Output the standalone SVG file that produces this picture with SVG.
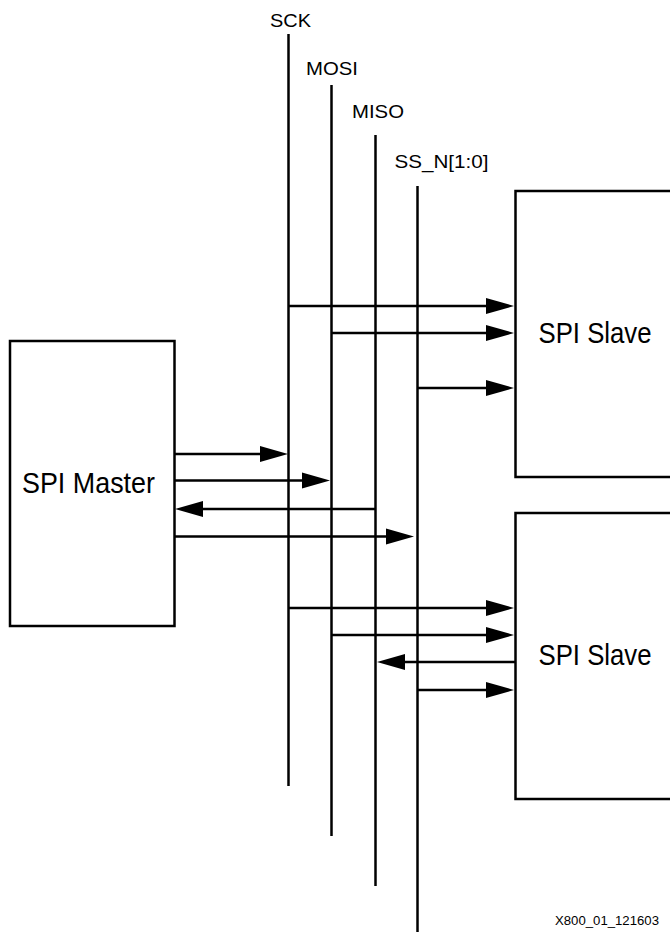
<svg xmlns="http://www.w3.org/2000/svg" width="670" height="932" viewBox="0 0 670 932">
  <style>
    .box { fill: #fff; stroke: #000; stroke-width: 2.5; }
    .bus { stroke: #000; stroke-width: 2.5; fill: none; }
    .sig { stroke: #000; stroke-width: 2.5; fill: none; marker-end: url(#ah); }
    .lbl { font-family: "Liberation Sans", Arial, sans-serif; font-size: 19px; fill: #000; }
    .big { font-family: "Liberation Sans", Arial, sans-serif; font-size: 29px; fill: #000; }
    .note { font-family: "Liberation Sans", Arial, sans-serif; font-size: 13px; fill: #000; }
  </style>
  <defs>
    <marker id="ah" markerUnits="userSpaceOnUse" markerWidth="30" markerHeight="18" refX="18" refY="8" orient="auto" overflow="visible">
      <path d="M0,0 L28,8 L0,16 Z" fill="#000"/>
    </marker>
  </defs>
  <rect width="670" height="932" fill="#fff"/>

  <g id="master">
    <rect class="box" x="10" y="341" width="164.5" height="285"/>
    <text class="big" x="22" y="493" textLength="133" lengthAdjust="spacingAndGlyphs">SPI Master</text>
  </g>

  <g id="slave1">
    <rect class="box" x="515.5" y="191" width="200" height="286"/>
    <text class="big" x="538.5" y="343" textLength="113" lengthAdjust="spacingAndGlyphs">SPI Slave</text>
  </g>

  <g id="slave2">
    <rect class="box" x="515.5" y="513" width="200" height="286"/>
    <text class="big" x="538.5" y="665" textLength="113" lengthAdjust="spacingAndGlyphs">SPI Slave</text>
  </g>

  <g id="bus-labels">
    <text class="lbl" x="270" y="27" textLength="41" lengthAdjust="spacingAndGlyphs">SCK</text>
    <text class="lbl" x="306" y="75" textLength="52" lengthAdjust="spacingAndGlyphs">MOSI</text>
    <text class="lbl" x="352" y="118" textLength="52" lengthAdjust="spacingAndGlyphs">MISO</text>
    <text class="lbl" x="394.5" y="168" textLength="94" lengthAdjust="spacingAndGlyphs">SS_N[1:0]</text>
  </g>

  <g id="connectors">
    <line class="bus" x1="288.5" y1="34" x2="288.5" y2="786"/>
    <line class="bus" x1="331.5" y1="85" x2="331.5" y2="836"/>
    <line class="bus" x1="375.5" y1="135" x2="375.5" y2="886"/>
    <line class="bus" x1="417.5" y1="186" x2="417.5" y2="932"/>

    <line class="sig" x1="288.5" y1="306" x2="504" y2="306"/>
    <line class="sig" x1="331.5" y1="333" x2="504" y2="333"/>
    <line class="sig" x1="417.5" y1="388" x2="504" y2="388"/>

    <line class="sig" x1="174" y1="454" x2="278" y2="454"/>
    <line class="sig" x1="174" y1="480.5" x2="320" y2="480.5"/>
    <line class="sig" x1="375.5" y1="509" x2="185" y2="509"/>
    <line class="sig" x1="174" y1="536.5" x2="404" y2="536.5"/>

    <line class="sig" x1="288.5" y1="608" x2="504" y2="608"/>
    <line class="sig" x1="331.5" y1="635" x2="504" y2="635"/>
    <line class="sig" x1="515" y1="662" x2="387" y2="662"/>
    <line class="sig" x1="417.5" y1="690" x2="504" y2="690"/>
  </g>

  <text class="note" x="555" y="925" textLength="104" lengthAdjust="spacingAndGlyphs">X800_01_121603</text>
</svg>
